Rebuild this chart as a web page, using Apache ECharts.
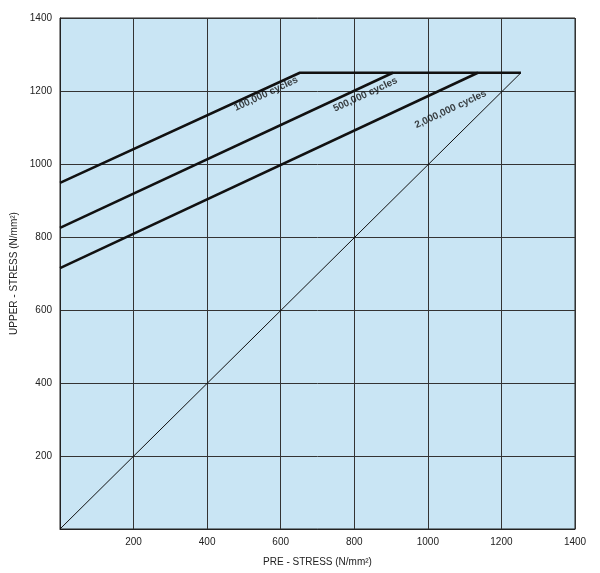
<!DOCTYPE html>
<html>
<head>
<meta charset="utf-8">
<script src="https://cdn.jsdelivr.net/npm/echarts@6/dist/echarts.min.js"></script>
<style>html,body{margin:0;background:#fff}#c{width:600px;height:573px}</style>
</head>
<body>
<div id="c"></div>
<script>
// cycle curves: [pre-stress, upper-stress]
var line100k = [[0, 948], [652, 1250], [1253, 1250]];
var line500k = [[0, 825], [905, 1250]];
var line2m = [[0, 715], [1136, 1250]];
var diagonal = [[0, 0], [1253, 1250]];
var labels = [
    { value: [560, 1192], name: '100,000 cycles' },
    { value: [830, 1190], name: '500,000 cycles' },
    { value: [1062, 1150], name: '2,000,000 cycles' }
];

var chart = echarts.init(document.getElementById('c'));

function lineSeries(data, width) {
    return {
        type: 'line',
        data: data,
        symbol: 'none',
        silent: true,
        lineStyle: { color: '#111', width: width }
    };
}

var option = {
    animation: false,
    grid: { left: 60, right: 25, top: 18, bottom: 44, backgroundColor: '#c9e5f4', show: true, borderColor: '#222', borderWidth: 1 },
    xAxis: {
        type: 'value', min: 0, max: 1400, interval: 200,
        name: 'PRE - STRESS (N/mm²)', nameLocation: 'middle', nameGap: 28,
        nameTextStyle: { fontSize: 10, color: '#222', fontFamily: 'Liberation Sans' },
        axisLine: { lineStyle: { color: '#222' } },
        axisTick: { show: false },
        axisLabel: { fontSize: 10, color: '#222', fontFamily: 'Liberation Sans',
            formatter: function(v) { return v === 0 ? '' : v; } },
        splitLine: { lineStyle: { color: '#333', width: 1 } }
    },
    yAxis: {
        type: 'value', min: 0, max: 1400, interval: 200,
        name: 'UPPER - STRESS (N/mm²)', nameLocation: 'middle', nameGap: 40,
        nameTextStyle: { fontSize: 10, color: '#222', fontFamily: 'Liberation Sans' },
        axisLine: { lineStyle: { color: '#222' } },
        axisTick: { show: false },
        axisLabel: { fontSize: 10, color: '#222', fontFamily: 'Liberation Sans',
            formatter: function(v) { return v === 0 ? '' : v; } },
        splitLine: { lineStyle: { color: '#333', width: 1 } }
    },
    series: [
        lineSeries(line100k, 2.5),
        lineSeries(line500k, 2.5),
        lineSeries(line2m, 2.5),
        lineSeries(diagonal, 1),
        {
            type: 'scatter',
            data: labels,
            symbolSize: 0,
            silent: true,
            label: {
                show: true, position: 'inside', rotate: 25,
                formatter: '{b}', fontSize: 10, fontWeight: 'bold',
                color: '#111', fontFamily: 'Liberation Sans'
            }
        }
    ]
};

chart.setOption(option);
</script>
</body>
</html>
